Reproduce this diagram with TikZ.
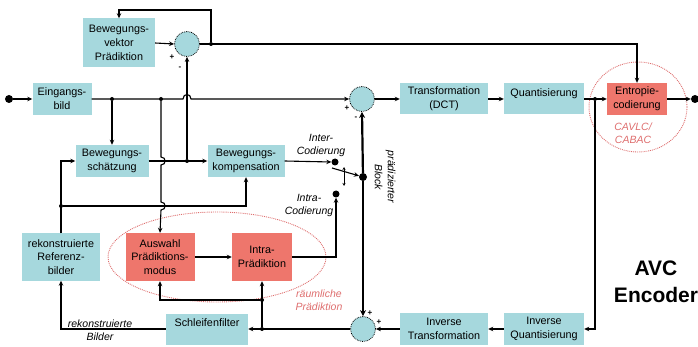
\documentclass[tikz,border=0pt]{standalone}
\usepackage{fontspec}
\setmainfont{Liberation Sans}
\usetikzlibrary{arrows.meta,calc}
\definecolor{boxc}{RGB}{166,216,221}
\definecolor{redc}{RGB}{238,118,108}
\definecolor{dotred}{RGB}{222,110,110}
\begin{document}
\begin{tikzpicture}[x=1pt,y=-1pt,
 blk/.style={fill=boxc, draw=none, align=center, inner sep=1pt, font=\fontsize{10.8}{13.8}\selectfont},
 rblk/.style={blk, fill=redc},
 sumc/.style={circle, fill=boxc, draw=black, densely dotted, line width=0.8pt, minimum size=25pt, inner sep=0pt},
 jdot/.style={circle, fill=black, inner sep=0pt, minimum size=4pt},
 bigdot/.style={circle, fill=black, inner sep=0pt, minimum size=8pt},
 ln/.style={line width=1.1pt},
 arr/.style={ln, -{Stealth[length=5pt,width=4.5pt]}},
 tarr/.style={line width=2.2pt, -{Stealth[length=6pt,width=6pt]}},
 sgn/.style={font=\fontsize{8}{8}\selectfont\bfseries, inner sep=0pt},
 lab/.style={font=\fontsize{10.5}{13}\selectfont\itshape, align=center, inner sep=0pt},
]
\useasboundingbox (0,0) rectangle (698,347);
% red dotted regions
\draw[dotred, densely dotted, line width=0.9pt] (217,257) ellipse [x radius=109pt, y radius=45pt];
\draw[dotred, densely dotted, line width=0.9pt] (638,107) ellipse [x radius=49pt, y radius=45pt];
% blocks
\node[blk, minimum width=59pt, minimum height=32pt] (ein) at (62,99) {Eingangs-\\bild};
\node[blk, minimum width=72pt, minimum height=49pt] (mvp) at (119,43) {Bewegungs-\\vektor\\Prädiktion};
\node[sumc] (mvsum) at (187,44) {};
\node[sumc] (sum1) at (362,99) {};
\node[blk, minimum width=88pt, minimum height=31pt] (dct) at (444,99) {Transformation\\(DCT)};
\node[blk, minimum width=80pt, minimum height=31pt] (quant) at (544,99) {Quantisierung\\\mbox{}};
\node[rblk, minimum width=60pt, minimum height=32pt] (ent) at (637,99) {Entropie-\\codierung};
\node[blk, minimum width=73pt, minimum height=32pt] (bs) at (112,161) {Bewegungs-\\schätzung};
\node[blk, minimum width=77pt, minimum height=32pt] (bk) at (246,161) {Bewegungs-\\kompensation};
\node[blk, minimum width=78pt, minimum height=47pt] (ref) at (61,257) {rekonstruierte\\Referenz-\\bilder};
\node[rblk, minimum width=69pt, minimum height=48pt] (aus) at (160,257) {Auswahl\\Prädiktions-\\modus};
\node[rblk, minimum width=60pt, minimum height=48pt] (intra) at (262,257) {Intra-\\Prädiktion};
\node[blk, minimum width=82pt, minimum height=31pt] (sf) at (207,329) {Schleifenfilter\\\mbox{}};
\node[blk, minimum width=88pt, minimum height=32pt] (it) at (444,329) {Inverse\\Transformation};
\node[blk, minimum width=80pt, minimum height=32pt] (iq) at (544,329) {Inverse\\Quantisierung};
\node[sumc] (sum2) at (363,329) {};
% dots
\node[bigdot] (in) at (9,99) {};
\node[bigdot] (out) at (695,99) {};
\node[bigdot, minimum size=7pt] (inter) at (335,162) {};
\node[bigdot, minimum size=7pt] (intrad) at (336,194) {};
\node[bigdot] (bd) at (363,177) {};
\node[jdot] (j1) at (112,99) {};
\node[jdot] (j2) at (161,99) {};
\node[jdot] (j3) at (187,161) {};
\node[jdot] (j4) at (211,44) {};
\node[jdot] (j5) at (595,99) {};
\node[jdot] (j6) at (262,329) {};
\node[jdot] (j7) at (262,300) {};
\node[jdot] (j8) at (61,206) {};
\coordinate (lev) at (332,168);
\coordinate (sw1) at (344,167);
\coordinate (sw2) at (344,186);
% connectors
\draw[arr] (in) -- (ein.west);
\draw[arr] (ein.east) -- (183,99) .. controls (183,93) and (191,93) .. (191,99) -- (sum1.west);
\draw[arr] (j1) -- (bs.north);
\draw[arr] (j2) -- (161,157) .. controls (166.5,157) and (166.5,165) .. (161,165) -- (161,202) .. controls (166.5,202) and (166.5,210) .. (161,210) -- (aus.north);
\draw[arr] (bs.east) -- (bk.west);
\draw[arr] (j3) -- (mvsum.south);
\draw[arr] (mvp.east) -- (mvsum.west);
\draw[arr] (mvsum.east) -| (ent.north);
\draw[arr] (j4) -- (211,10) -| (mvp.north);
\draw[arr] (sum1.east) -- (dct.west);
\draw[arr] (dct.east) -- (quant.west);
\draw[arr] (quant.east) -- (ent.west);
\draw[arr] (ent.east) -- (out);
\draw[arr] (j5) |- (iq.east);
\draw[arr] (iq.west) -- (it.east);
\draw[arr] (it.west) -- (sum2.east);
\draw[arr] (sum2.west) -- (sf.east);
\draw[arr] (j6) -- (intra.south);
\draw[arr] (j7) -| (aus.south);
\draw[arr] (sf.west) -| (ref.south);
\draw[arr] (ref.north) |- (bs.west);
\draw[arr] (j8) -| (bk.south);
\draw[arr] (aus.east) -- (intra.west);
\draw[arr] (intra.east) -| (intrad.south);
\draw[arr] (bk.east) -- (inter.west);
\draw[tarr] (bd) -- (sum1.south);
\draw[tarr] (bd) -- (sum2.north);
\draw[arr] (lev) -- (bd);
\draw[line width=0.6pt, {Stealth[length=3pt,width=3pt]}-{Stealth[length=3pt,width=3pt]}] (sw1) -- (sw2);
% signs
\node[sgn] (p1) at (172,57) {+};
\node[sgn] (m1) at (180,68) {-};
\node[sgn] (p2) at (347,108) {+};
\node[sgn] (m2) at (356,118) {-};
\node[sgn] (p3) at (370,313) {+};
\node[sgn] (p4) at (379,322) {+};
% labels
\node[lab] (interl) at (321,145) {Inter-\\Codierung};
\node[lab] (intral) at (309,205) {Intra-\\Codierung};
\node[lab, rotate=-90] (pb) at (385,177) {prädizierter\\Block};
\node[lab] (rb) at (100,330) {rekonstruierte\\Bilder};
\node[lab, text=dotred] (rp) at (319,300) {räumliche\\Prädiktion};
\node[lab, text=dotred] (cav) at (633,133) {CAVLC/\\CABAC};
\node[font=\fontsize{21}{27}\selectfont\bfseries, align=center, inner sep=0pt] (avc) at (656,282) {AVC\\Encoder};
\end{tikzpicture}
\end{document}
